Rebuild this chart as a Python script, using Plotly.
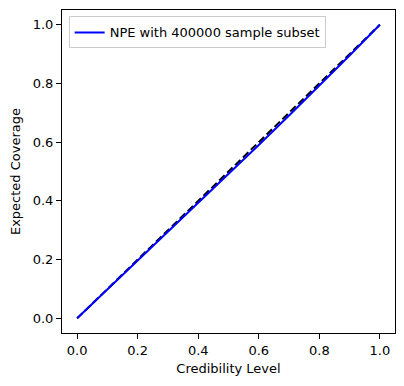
import plotly.graph_objs as go

# credibility level vs expected coverage
credibility = [0.0, 0.1, 0.2, 0.3, 0.4, 0.5, 0.6, 0.7, 0.8, 0.9, 1.0]
coverage = [0.0, 0.098, 0.195, 0.293, 0.391, 0.490, 0.590, 0.691, 0.792, 0.895, 1.0]
diag = [0.0, 1.0]

tick_vals = [0.0, 0.2, 0.4, 0.6, 0.8, 1.0]
tick_text = ['0.0', '0.2', '0.4', '0.6', '0.8', '1.0']

data = []
# diagonal first so the blue curve sits on top of it
data.append(go.Scatter(
    x=diag, y=diag,
    mode='lines',
    line=dict(color='black', width=2, dash='7.5px,3.5px'),
    showlegend=False,
))
data.append(go.Scatter(
    name='NPE with 400000 sample subset',
    x=credibility, y=coverage,
    mode='lines',
    line=dict(color='#0000ff', width=2),
))

axis = dict(
    range=[-0.05, 1.05],
    tickvals=tick_vals, ticktext=tick_text,
    ticks='outside', ticklen=5, tickcolor='black',
    showline=True, linecolor='black', linewidth=1, mirror=True,
    showgrid=False, zeroline=False, automargin=False,
    tickfont=dict(size=13, color='black'),
)

# page body has an 8px margin, so the margins below make up for it
layout = go.Layout(
    width=404, height=386,
    margin=dict(l=54, r=17, t=2, b=61),
    plot_bgcolor='white', paper_bgcolor='white',
    font=dict(family='DejaVu Sans', size=13, color='black'),
    xaxis=dict(axis, title=dict(text='Credibility Level', font=dict(size=13), standoff=7)),
    yaxis=dict(axis, title=dict(text='Expected Coverage', font=dict(size=13), standoff=9)),
    legend=dict(x=0.02, y=0.98, xanchor='left', yanchor='top',
                bgcolor='rgba(255,255,255,0.8)', bordercolor='#cccccc', borderwidth=1,
                font=dict(size=13)),
    showlegend=True,
)

fig = go.Figure(data=data, layout=layout)
fig.write_html("out.html")
